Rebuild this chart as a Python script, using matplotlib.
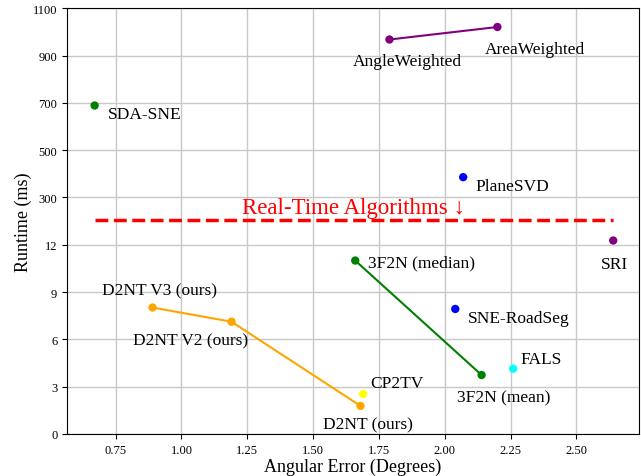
import numpy as np
import matplotlib
matplotlib.use("Agg")
import matplotlib.pyplot as plt

plt.rcParams['font.family'] = ['Liberation Serif', 'DejaVu Serif']

# ---- data ----
names = ["SDA-SNE", "AngleWeighted", "AreaWeighted", "PlaneSVD", "SRI",
         "3F2N (median)", "3F2N (mean)", "SNE-RoadSeg", "FALS", "CP2TV",
         "D2NT V3 (ours)", "D2NT V2 (ours)", "D2NT (ours)"]
angular_error = [0.67, 1.79, 2.20, 2.07, 2.64,
                 1.66, 2.14, 2.04, 2.26, 1.69,
                 0.89, 1.19, 1.68]
runtime_ms = [689, 968, 1021, 386, 38,
              11.0, 3.74, 7.93, 4.14, 2.54,
              8.02, 7.12, 1.78]
colors = ["green", "purple", "purple", "blue", "purple",
          "green", "green", "blue", "cyan", "yellow",
          "orange", "orange", "orange"]
# groups connected by lines (indices into the lists above)
line_groups = [([1, 2], "purple"), ([5, 6], "green"), ([10, 11, 12], "orange")]
realtime_threshold = 160
y_ticks = [0, 3, 6, 9, 12, 300, 500, 700, 900, 1100]
x_ticks = [0.75, 1.0, 1.25, 1.5, 1.75, 2.0, 2.25, 2.5]

# label offsets in pixels (dx, dy) relative to each point
label_offsets = [(13, -13), (-37, -25), (-13, -26), (12, -13), (-12, -27),
                 (13, -6), (-25, -26), (13, -13), (7, 6), (7, 7),
                 (-51, 13), (-99, -23), (-38, -22)]

# piecewise axis: 0-12 linear, 12-300 one step, 300-1100 linear
_vals = [0, 12, 300, 1100]
_pos = [0, 4, 5, 9]
def fwd(v):
    return np.interp(v, _vals, _pos)
def inv(p):
    return np.interp(p, _pos, _vals)

fig = plt.figure(figsize=(6.41, 4.77), dpi=100)
ax = fig.add_axes([0.1045, 0.0881, 0.892, 0.8924])
ax.set_yscale('function', functions=(fwd, inv))

for idx, c in line_groups:
    ax.plot([angular_error[i] for i in idx], [runtime_ms[i] for i in idx],
            color=c, lw=1.5, zorder=3)
ax.scatter(angular_error, runtime_ms, c=colors, s=36, zorder=4, edgecolors='none')

for n, x, y, (dx, dy) in zip(names, angular_error, runtime_ms, label_offsets):
    ax.annotate(n, (x, y), xytext=(dx, dy), textcoords='offset pixels',
                ha='left', va='baseline', fontsize=12.5)

xmin, xmax = min(angular_error), max(angular_error)
ax.hlines(realtime_threshold, xmin, xmax, colors='red', linestyles='--', lw=2.5, zorder=3)
ax.annotate("Real-Time Algorithms ↓", ((xmin + xmax) / 2, realtime_threshold),
            xytext=(0, 7), textcoords='offset pixels', ha='center', va='baseline',
            color='red', fontsize=16.5)

ax.set_ylim(0, 1100)
ax.set_xlim(0.565, 2.737)
ax.set_yticks(y_ticks)
ax.set_yticklabels([str(t) for t in y_ticks])
ax.set_xticks(x_ticks)
ax.set_xticklabels([f"{t:.2f}" for t in x_ticks])
ax.tick_params(labelsize=9)
ax.grid(True, color='#c8c8c8', lw=1)
ax.set_axisbelow(True)
ax.set_xlabel("Angular Error (Degrees)", fontsize=13, labelpad=1.5)
ax.set_ylabel("Runtime (ms)", fontsize=13, labelpad=0.5)

fig.savefig("out.png", dpi=100)
